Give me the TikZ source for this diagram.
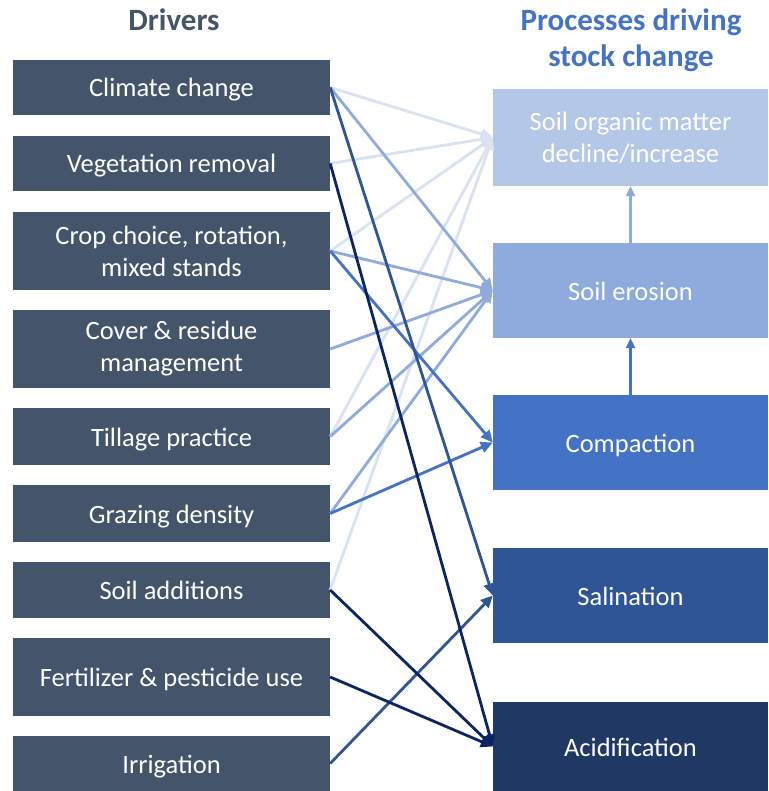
\documentclass[tikz,border=0pt]{standalone}
\usepackage{fontspec}
\setmainfont{Carlito}
\usetikzlibrary{arrows.meta}
\definecolor{drv}{HTML}{44546A}
\definecolor{csom}{HTML}{B4C7E7}
\definecolor{cero}{HTML}{8FAADC}
\definecolor{ccomp}{HTML}{4472C4}
\definecolor{csal}{HTML}{2F5597}
\definecolor{cacid}{HTML}{203864}
\definecolor{lsom}{HTML}{DAE3F3}
\definecolor{lacid}{HTML}{0B2564}
\begin{document}
\begin{tikzpicture}[x=1pt,y=-1pt,
  lbox/.style={fill=drv, text=white, minimum width=317pt, inner sep=0pt, align=center,
    font=\fontsize{26.5}{32}\selectfont},
  rbox/.style={text=white, minimum width=275pt, inner sep=0pt, align=center,
    font=\fontsize{26.5}{32}\selectfont},
  oneline/.style={text height=24pt, text depth=5pt},
  title/.style={font=\fontsize{31}{36}\selectfont\bfseries, align=center, inner sep=0pt},
  conn/.style={line width=2.8pt, -{Triangle[length=12pt,width=11pt]}},
  vconn/.style={line width=2.2pt, -{Triangle[length=10pt,width=9pt]}}
]
\useasboundingbox (0,0) rectangle (768,791);
\fill[white] (0,0) rectangle (768,791);

\node[title, text=drv] (tdrv) at (174,20) {Drivers};
\node[title, text=ccomp] (tproc) at (631,40.5) {Processes driving\\stock change};

% drivers
\node[lbox, oneline, minimum height=55pt] (cc) at (171.5,87.5) {Climate change};
\node[lbox, oneline, minimum height=55pt] (veg) at (171.5,163.5) {Vegetation removal};
\node[lbox, minimum height=78pt] (crop) at (171.5,251) {Crop choice, rotation,\\mixed stands};
\node[lbox, minimum height=78pt] (cover) at (171.5,349) {Cover \& residue\\management};
\node[lbox, oneline, minimum height=57pt] (till) at (171.5,436.5) {Tillage practice};
\node[lbox, oneline, minimum height=57pt] (graz) at (171.5,513.5) {Grazing density};
\node[lbox, oneline, minimum height=56pt] (add) at (171.5,590) {Soil additions};
\node[lbox, oneline, minimum height=78pt] (fert) at (171.5,677) {Fertilizer \& pesticide use};
\node[lbox, oneline, minimum height=55pt] (irr) at (171.5,763.5) {Irrigation};

% processes
\node[rbox, fill=csom, minimum height=97pt] (som) at (630.5,137.5) {Soil organic matter\\decline/increase};
\node[rbox, oneline, fill=cero, minimum height=95pt] (ero) at (630.5,290.5) {Soil erosion};
\node[rbox, oneline, fill=ccomp, minimum height=95pt] (comp) at (630.5,442.5) {Compaction};
\node[rbox, oneline, fill=csal, minimum height=95pt] (sal) at (630.5,595.5) {Salination};
\node[rbox, oneline, fill=cacid, minimum height=89pt] (acid) at (630.5,746.5) {Acidification};

% connectors to SOM
\draw[conn, lsom] (cc.east) -- (som.west);
\draw[conn, lsom] (veg.east) -- (som.west);
\draw[conn, lsom] (crop.east) -- (som.west);
\draw[conn, lsom] (till.east) -- (som.west);
\draw[conn, lsom] (add.east) -- (som.west);
% to erosion
\draw[conn, cero] (cc.east) -- (ero.west);
\draw[conn, cero] (crop.east) -- (ero.west);
\draw[conn, cero] (cover.east) -- (ero.west);
\draw[conn, cero] (till.east) -- (ero.west);
\draw[conn, cero] (graz.east) -- (ero.west);
% to compaction
\draw[conn, ccomp] (crop.east) -- (comp.west);
\draw[conn, ccomp] (graz.east) -- (comp.west);
% to salination
\draw[conn, csal] (cc.east) -- (sal.west);
\draw[conn, csal] (irr.east) -- (sal.west);
% to acidification
\draw[conn, lacid] (veg.east) -- (acid.west);
\draw[conn, lacid] (add.east) -- (acid.west);
\draw[conn, lacid] (fert.east) -- (acid.west);

% vertical
\draw[vconn, cero] (ero.north) -- (som.south);
\draw[vconn, ccomp] (comp.north) -- (ero.south);
\end{tikzpicture}
\end{document}
